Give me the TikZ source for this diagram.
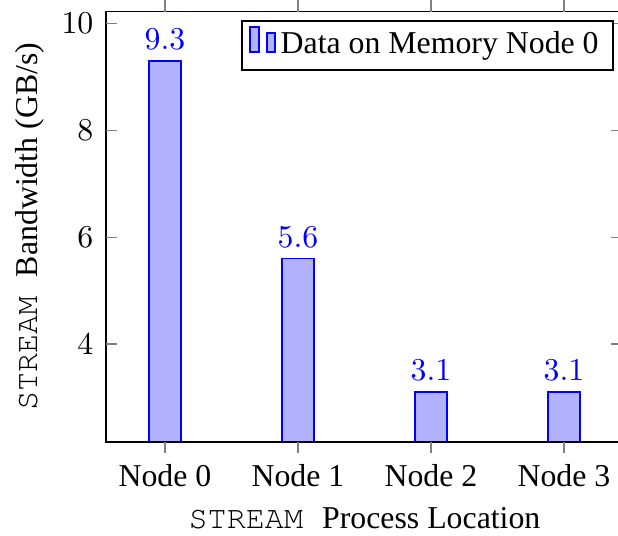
\documentclass[tikz,border=0pt]{standalone}
\usepackage{fontspec}
\setmainfont{Liberation Serif}
\setmonofont{TeX Gyre Cursor}
\usepackage{tikz}

\tikzset{
    barbox/.style={draw=blue, fill=blue!30, line width=0.4pt},
    tickline/.style={gray, line width=0.4pt},
    axisline/.style={black, line width=0.4pt},
    vallabel/.style={blue, anchor=south},
    ticklabel/.style={anchor=base, inner sep=0pt},
}

\begin{document}
\begin{tikzpicture}[x=41.82pt, y=16.79pt]
    % Page size
    \useasboundingbox (-1.2406,0.4045) rectangle (3.406,10.442);

    % Bars
    \draw[barbox] (-0.12,2.165) rectangle (0.12,9.3);
    \draw[barbox] (0.88,2.165) rectangle (1.12,5.6);
    \draw[barbox] (1.88,2.165) rectangle (2.12,3.1);
    \draw[barbox] (2.88,2.165) rectangle (3.12,3.1);

    % Value labels
    \node[vallabel] (val0) at (0,9.3) {$9.3$};
    \node[vallabel] (val1) at (1,5.6) {$5.6$};
    \node[vallabel] (val2) at (2,3.1) {$3.1$};
    \node[vallabel] (val3) at (3,3.1) {$3.1$};

    % Axis frame (right side falls off the page)
    \draw[axisline] (3.406,10.225) -- (-0.4436,10.225) -- (-0.4436,2.165) -- (3.406,2.165);

    % Ticks on x
    \draw[tickline] (0,2.165) -- (0,1.959);
    \draw[tickline] (1,2.165) -- (1,1.959);
    \draw[tickline] (2,2.165) -- (2,1.959);
    \draw[tickline] (3,2.165) -- (3,1.959);
    \draw[tickline] (0,10.225) -- (0,10.442);
    \draw[tickline] (1,10.225) -- (1,10.442);
    \draw[tickline] (2,10.225) -- (2,10.442);
    \draw[tickline] (3,10.225) -- (3,10.442);

    % Ticks on y
    \draw[tickline] (-0.4436,4) -- (-0.3609,4);
    \draw[tickline] (-0.4436,6) -- (-0.3609,6);
    \draw[tickline] (-0.4436,8) -- (-0.3609,8);
    \draw[tickline] (-0.4436,10) -- (-0.3609,10);
    \draw[tickline] (3.406,4) -- (3.357,4);
    \draw[tickline] (3.406,6) -- (3.357,6);
    \draw[tickline] (3.406,8) -- (3.357,8);
    \draw[tickline] (3.406,10) -- (3.357,10);

    % Tick labels
    \node[ticklabel] (xt0) at (0,1.322) {Node 0};
    \node[ticklabel] (xt1) at (1,1.322) {Node 1};
    \node[ticklabel] (xt2) at (2,1.322) {Node 2};
    \node[ticklabel] (xt3) at (3,1.322) {Node 3};
    \node[anchor=east, inner sep=0pt] (yt4) at (-0.534,4) {$4$};
    \node[anchor=east, inner sep=0pt] (yt6) at (-0.534,6) {$6$};
    \node[anchor=east, inner sep=0pt] (yt8) at (-0.534,8) {$8$};
    \node[anchor=east, inner sep=0pt] (yt10) at (-0.534,10) {$10$};

    % Axis labels
    \node[anchor=base, inner sep=0pt] (xlabel) at (1.5,0.536) {\texttt{STREAM }Process Location};
    \node[anchor=base, inner sep=0pt, rotate=90] (ylabel) at (-0.962,6.195) {\texttt{STREAM }Bandwidth (GB/s)};

    % Legend
    \draw[axisline, fill=white] (0.579,9.131) rectangle (3.368,10.049);
    \draw[barbox] (0.639,9.468) rectangle (0.707,9.936);
    \draw[barbox] (0.767,9.468) rectangle (0.827,9.824);
    \node[anchor=base west, inner sep=0pt] (legtext) at (0.865,9.449) {Data on Memory Node 0};
\end{tikzpicture}
\end{document}
